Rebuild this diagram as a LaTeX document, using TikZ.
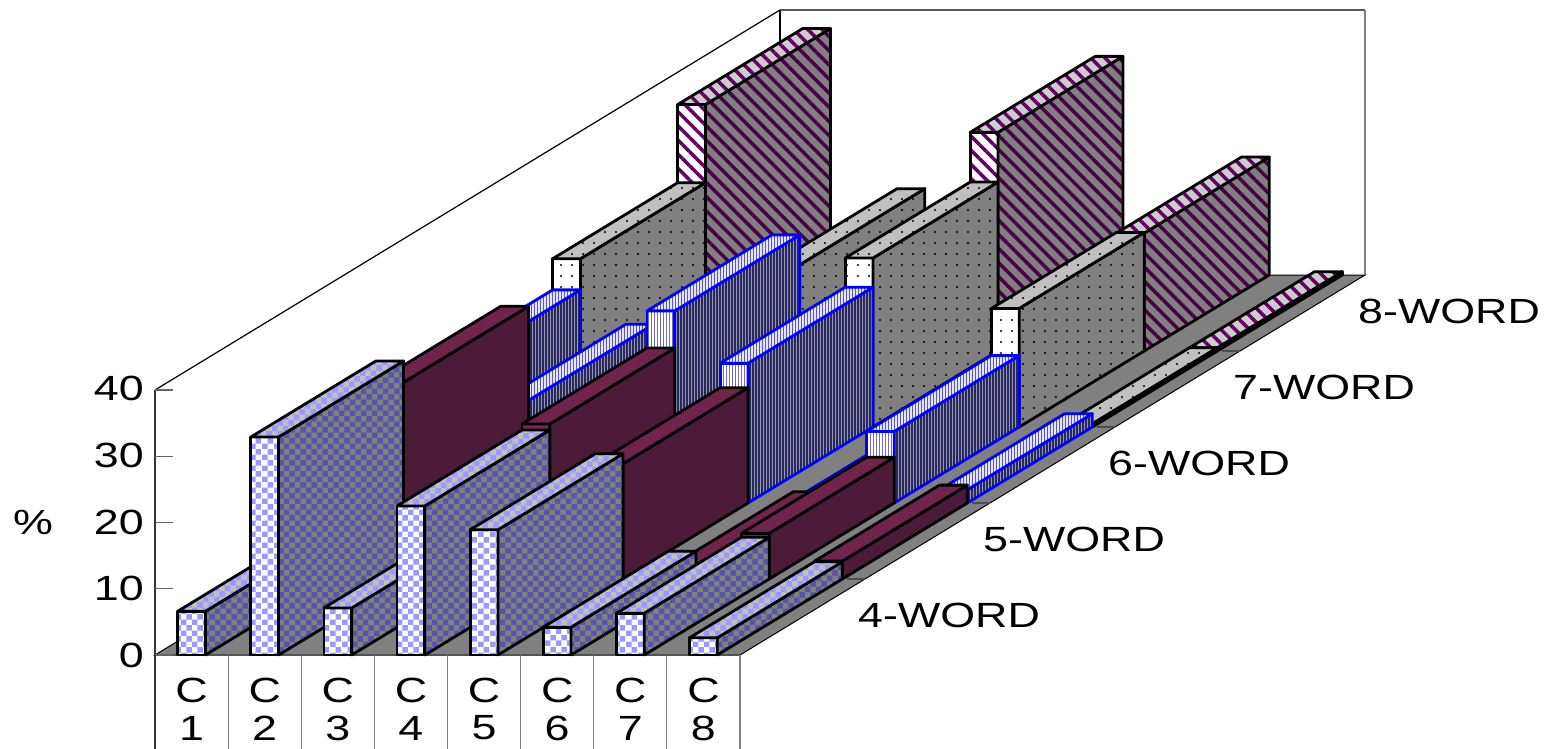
\documentclass[tikz,border=0pt]{standalone}
\usepackage{fontspec}
\newfontfamily\lab{Liberation Sans}[FakeStretch=1.28]
\usetikzlibrary{patterns,patterns.meta}
\definecolor{chk}{RGB}{153,153,255}
\definecolor{chkD}{RGB}{85,85,170}
\definecolor{mT}{RGB}{112,36,76}
\definecolor{mS}{RGB}{76,27,56}
\definecolor{mF}{RGB}{120,40,82}
\definecolor{vlF}{RGB}{110,110,200}
\definecolor{vlS}{RGB}{40,40,90}
\definecolor{vbS}{RGB}{150,150,178}
\definecolor{vbT}{RGB}{228,228,248}
\definecolor{vlT}{RGB}{90,90,170}
\definecolor{pu}{RGB}{102,0,102}
\definecolor{puD}{RGB}{75,0,70}
\definecolor{flr}{RGB}{128,128,128}
\definecolor{ltg}{RGB}{192,192,192}
\tikzset{
  face/.style={draw=black, line width=2.8pt, line join=round},
  bface/.style={draw=blue, line width=2.8pt, line join=round},
  fourF/.style={face, preaction={fill=white}, preaction={pattern=checkerboard, pattern color=chk}},
  fourS/.style={face, preaction={fill=flr}, preaction={pattern=checkerboard, pattern color=chkD}},
  fourT/.style={face, preaction={fill=ltg}, preaction={pattern=checkerboard, pattern color=chk}},
  fiveF/.style={face, fill=mF},
  fiveS/.style={face, fill=mS},
  fiveT/.style={face, fill=mT},
  sixF/.style={bface, preaction={fill=white}, preaction={pattern={Lines[angle=90,distance=3pt,line width=1pt]}, pattern color=vlF}},
  sixS/.style={bface, preaction={fill=vbS}, preaction={pattern={Lines[angle=90,distance=3pt,line width=1.3pt]}, pattern color=vlS}},
  sixT/.style={bface, preaction={fill=vbT}, preaction={pattern={Lines[angle=90,distance=3pt,line width=1pt]}, pattern color=vlT}},
  sevenF/.style={face, preaction={fill=white}, preaction={pattern={Dots[distance=11pt,radius=1.1pt]}, pattern color=black}},
  sevenS/.style={face, preaction={fill=flr}, preaction={pattern={Dots[distance=11pt,radius=1.1pt]}, pattern color=black}},
  sevenT/.style={face, preaction={fill=ltg}, preaction={pattern={Dots[distance=11pt,radius=1.1pt]}, pattern color=black}},
  eightF/.style={face, preaction={fill=white}, preaction={pattern={Lines[angle=-45,distance=10pt,line width=3.5pt]}, pattern color=pu}},
  eightS/.style={face, preaction={fill=flr}, preaction={pattern={Lines[angle=-45,distance=10pt,line width=3.5pt]}, pattern color=puD}},
  eightT/.style={face, preaction={fill=ltg!80!white}, preaction={pattern={Lines[angle=-45,distance=10pt,line width=3.5pt]}, pattern color=pu}},
  lbl/.style={font=\lab\fontsize{35}{35}\selectfont, inner sep=0pt},
  wall/.style={line width=1.2pt, draw=black},
  grid/.style={line width=1.2pt, draw=gray},
}
\newcommand\onebar[4]{%
  \pgfmathsetmacro\xl{#1+0.31}\pgfmathsetmacro\xr{#1+0.69}\pgfmathsetmacro\zb{#2+1}%
  \path[#4F] (\xl,0,#2) -- (\xr,0,#2) -- (\xr,#3,#2) -- (\xl,#3,#2) -- cycle;
  \path[#4S] (\xr,0,#2) -- (\xr,0,\zb) -- (\xr,#3,\zb) -- (\xr,#3,#2) -- cycle;
  \path[#4T] (\xl,#3,#2) -- (\xr,#3,#2) -- (\xr,#3,\zb) -- (\xl,#3,\zb) -- cycle;
}
\begin{document}
\begin{tikzpicture}[x=1pt,y=-1pt]
\useasboundingbox[fill=white] (0,0) rectangle (1549,749);
\begin{scope}[shift={(155pt,-655pt)}, x={(73.125pt,0pt)}, y={(0pt,6.625pt)}, z={(125pt,76pt)}]
  % walls
  \fill[white] (0,0,0) -- (0,40,0) -- (0,40,5) -- (8,40,5) -- (8,0,5) -- cycle;
  \draw[wall] (0,40,0) -- (0,40,5) -- (8,40,5);
  \draw[wall] (0,40,5) -- (0,0,5);
  \draw[grid] (8,40,5) -- (8,0,5);
  % floor
  \path[fill=flr, draw=black, line width=1pt] (0,0,0) -- (8,0,0) -- (8,0,5) -- (0,0,5) -- cycle;
  \foreach \k in {1,2,3,4} \draw[line width=1.2pt, black!70] (8,0,\k) -- (7.75,0,\k);
  % axis
  \draw[line width=1.2pt, black!80] (0,40,0) -- (0,0,0);
  \foreach \v in {0,10,20,30,40} \draw[line width=1.2pt, black!60] (0,\v,0) -- (0.25,\v,0);
  % bars, back to front
  \foreach \v [count=\i from 0] in {37.2,6,8,12,33,5,17.8,0.5} {\onebar{\i}{4}{\v}{eight}}
  \foreach \v [count=\i from 0] in {25.4,10,12,24.5,25.5,3,17.9,0.5} {\onebar{\i}{3}{\v}{seven}}
  \foreach \v [count=\i from 0] in {20.7,15.5,8,29.0,21.1,0.5,10.8,2.0} {\onebar{\i}{2}{\v}{six}}
  \foreach \v [count=\i from 0] in {12,29.7,10,23.4,17.4,1.7,6.9,2.7} {\onebar{\i}{1}{\v}{five}}
  \foreach \v [count=\i from 0] in {6.6,32.9,7.1,22.5,18.9,4.2,6.3,2.6} {\onebar{\i}{0}{\v}{four}}
\end{scope}
% category table lines
\foreach \k in {0,...,8} \draw[grid] (155+73.125*\k,655) -- (155+73.125*\k,749);
\draw[line width=1.2pt, black!80] (155,655) -- (155,749);
% value labels
\node[lbl, anchor=east] (v40) at (144,388) {40};
\node[lbl, anchor=east] (v30) at (144,455) {30};
\node[lbl, anchor=east] (v20) at (144,522) {20};
\node[lbl, anchor=east] (v10) at (144,588) {10};
\node[lbl, anchor=east] (v0) at (144,655) {0};
\node[lbl] (pct) at (33,522) {\%};
% category labels
\foreach \k in {1,...,8} {
  \node[lbl] (c\k) at (155+73.125*\k-36.56,690) {C};
  \node[lbl] (n\k) at (155+73.125*\k-36.56,728) {\k};
}
% series labels
\node[lbl, anchor=west] (w4) at (858,615) {4-WORD};
\node[lbl, anchor=west] (w5) at (983,539) {5-WORD};
\node[lbl, anchor=west] (w6) at (1108,463) {6-WORD};
\node[lbl, anchor=west] (w7) at (1233,387) {7-WORD};
\node[lbl, anchor=west] (w8) at (1358,311) {8-WORD};
\end{tikzpicture}
\end{document}
